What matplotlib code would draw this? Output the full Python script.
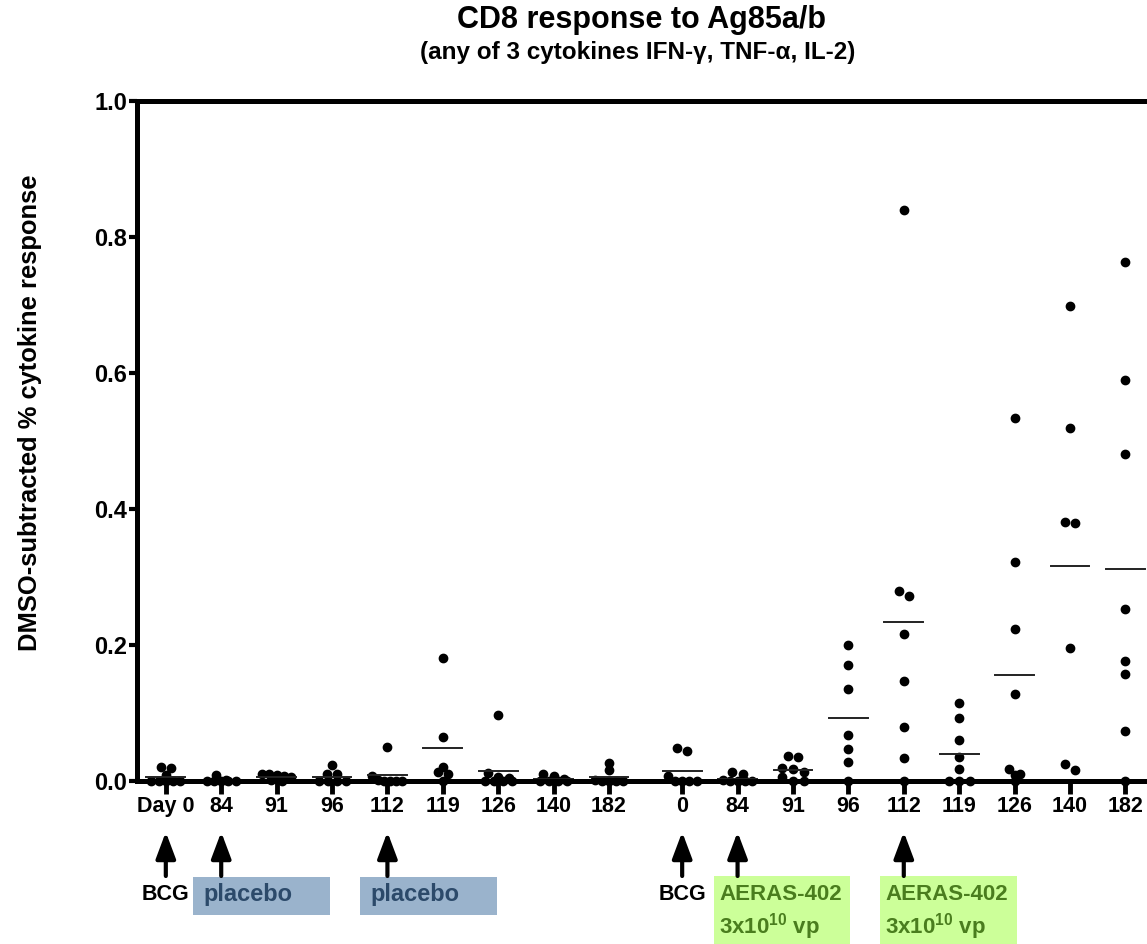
import numpy as np
import matplotlib.pyplot as plt
import matplotlib.transforms as mtransforms
from matplotlib.patches import Rectangle

plt.rcParams['font.family'] = ['Liberation Sans', 'DejaVu Sans']
plt.rcParams['font.weight'] = 'bold'
plt.rcParams['mathtext.fontset'] = 'custom'
plt.rcParams['mathtext.rm'] = 'Liberation Sans:bold'
plt.rcParams['mathtext.default'] = 'rm'

# dni pobrania krwi (dwie grupy)
days_placebo = ["Day 0", "84", "91", "96", "112", "119", "126", "140", "182"]
days_aeras = ["0", "84", "91", "96", "112", "119", "126", "140", "182"]

# odczytane wartosci, grupa placebo
placebo = [
    [0.021, 0.019, 0.0093, 0, 0, 0, 0, 0],
    [0.0093, 0.002, 0, 0, 0, 0, 0],
    [0.011, 0.010, 0.009, 0.008, 0.006, 0.002, 0],
    [0.024, 0.011, 0.010, 0, 0, 0, 0],
    [0.0505, 0.0078, 0.002, 0, 0, 0, 0],
    [0.1814, 0.0647, 0.021, 0.0127, 0.0098, 0],
    [0.0966, 0.0113, 0.0064, 0.004, 0, 0, 0, 0],
    [0.010, 0.008, 0.003, 0, 0, 0, 0],
    [0.027, 0.016, 0.002, 0, 0, 0, 0],
]

# grupa AERAS-402
aeras = [
    [0.048, 0.044, 0.0074, 0, 0, 0, 0],
    [0.0127, 0.0098, 0.002, 0, 0, 0, 0],
    [0.037, 0.0358, 0.0186, 0.017, 0.0137, 0.0054, 0, 0],
    [0.200, 0.171, 0.135, 0.068, 0.047, 0.028, 0],
    [0.839, 0.280, 0.2725, 0.216, 0.1475, 0.080, 0.0333, 0],
    [0.1147, 0.092, 0.060, 0.0348, 0.0172, 0, 0, 0],
    [0.534, 0.3225, 0.2235, 0.1275, 0.0172, 0.0098, 0.0083, 0],
    [0.699, 0.5186, 0.381, 0.379, 0.196, 0.0245, 0.0166],
    [0.763, 0.589, 0.481, 0.253, 0.177, 0.157, 0.073, 0],
]

gap = 9.32
x_placebo = np.arange(len(days_placebo))
x_aeras = np.arange(len(days_aeras)) + gap


def spread(vals, dx=0.19, thr=0.008):
    # proste rozsuniecie punktow o zblizonych wartosciach (jak w Prism)
    vals = sorted(vals, reverse=True)
    out_y, out_dx = [], []
    i = 0
    while i < len(vals):
        j = i
        while j < len(vals) and vals[i] - vals[j] < thr:
            j += 1
        n = j - i
        step = min(dx, 0.65 / max(n, 1))
        for k in range(n):
            out_y.append(vals[i + k])
            out_dx.append((k - (n - 1) / 2) * step)
        i = j
    return np.array(out_dx), np.array(out_y)


fig = plt.figure(figsize=(11.47, 9.44), dpi=100)
ax = fig.add_axes([137 / 1147, 1 - 781 / 944, 1 - 137 / 1147, 680 / 944])

for xs, groups in [(x_placebo, placebo), (x_aeras, aeras)]:
    for x, vals in zip(xs, groups):
        dxs, ys = spread(vals)
        ax.plot(x + dxs, ys, 'o', color='black', markersize=6, clip_on=False, zorder=2)
        m = np.mean(vals)
        ax.plot([x - 0.35, x + 0.35], [m, m], color='#222222', lw=1.4, zorder=2)

ax.set_xlim(-0.52, 17.71)
ax.set_ylim(0, 1.0)
ax.set_yticks(np.arange(0, 1.01, 0.2))
ax.set_yticklabels([f"{v:.1f}" for v in np.arange(0, 1.01, 0.2)])
ax.set_xticks(list(x_placebo) + list(x_aeras))
ax.set_xticklabels(days_placebo + days_aeras)

ax.spines['right'].set_visible(False)
for s in ['left', 'bottom', 'top']:
    ax.spines[s].set_linewidth(3.6)
ax.tick_params(axis='y', labelsize=17, width=3, length=6, pad=1)
ax.tick_params(axis='x', labelsize=15.5, width=3.5, length=9, pad=2)

fig.text(30 / 1147, 1 - 413 / 944, "DMSO-subtracted % cytokine response",
         rotation=90, ha='center', va='center', fontsize=18.4)
fig.text(0.559, 1 - 20 / 944, "CD8 response to Ag85a/b", ha='center', va='center', fontsize=22)
fig.text(0.556, 1 - 52 / 944, "(any of 3 cytokines IFN-\u03b3, TNF-\u03b1, IL-2)",
         ha='center', va='center', fontsize=17.5)

# strzalki i opisy szczepien pod osia
trans = mtransforms.blended_transform_factory(ax.transData, fig.transFigure)
arrow_x = [x_placebo[0], x_placebo[1], x_placebo[4], x_aeras[0], x_aeras[1], x_aeras[4]]
for x in arrow_x:
    ax.annotate('', xy=(x, 1 - 832 / 944), xycoords=trans,
                xytext=(x, 1 - 876 / 944), textcoords=trans,
                arrowprops=dict(arrowstyle='-|>,head_length=0.8,head_width=0.3',
                                lw=3, color='black', mutation_scale=20,
                                shrinkA=0, shrinkB=0))

for x in [x_placebo[0], x_aeras[0]]:
    ax.text(x, 1 - 895 / 944, "BCG", transform=trans, ha='center', va='center',
            fontsize=15.5, clip_on=False)

for x0, x1 in [(0.487, 2.96), (3.50, 5.97)]:
    ax.add_patch(Rectangle((x0, 1 - 915 / 944), x1 - x0, 38 / 944, transform=trans,
                           facecolor='#9ab3cc', edgecolor='none', clip_on=False))
    ax.text(x0 + 0.2, 1 - 894 / 944, "placebo", transform=trans, ha='left', va='center',
            fontsize=17, color='#2c4a6a', clip_on=False)

for x0, x1 in [(9.90, 12.35), (12.89, 15.37)]:
    ax.add_patch(Rectangle((x0, 0), x1 - x0, 68 / 944, transform=trans,
                           facecolor='#ccff99', edgecolor='none', clip_on=False))
    ax.text(x0 + 0.09, 1 - 895 / 944, "AERAS-402", transform=trans, ha='left', va='center',
            fontsize=16, color='#4a7d1e', clip_on=False)
    ax.text(x0 + 0.09, 1 - 927 / 944, "3x10$^{10}$ vp", transform=trans, ha='left', va='center',
            fontsize=16, color='#4a7d1e', clip_on=False)

fig.savefig("out.png", dpi=100)
